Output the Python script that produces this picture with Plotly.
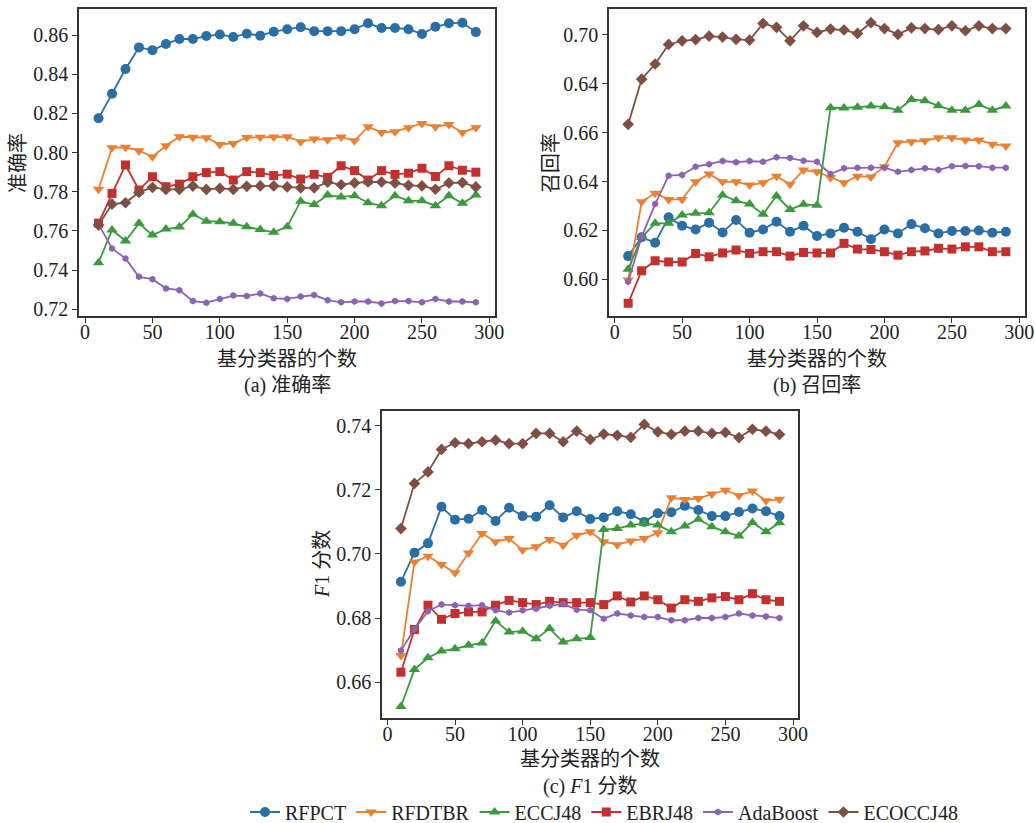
import plotly.graph_objects as go

# number of base classifiers
n_base = list(range(10, 300, 10))

series_names = ["RFPCT", "RFDTBR", "ECCJ48", "EBRJ48", "AdaBoost", "ECOCCJ48"]

# (a) accuracy
acc_rfpct = [0.8175, 0.830, 0.8427, 0.8537, 0.8523, 0.8554, 0.858, 0.858, 0.8595, 0.8603,
             0.859, 0.8607, 0.8597, 0.8617, 0.863, 0.864, 0.862, 0.862, 0.862, 0.863,
             0.866, 0.8636, 0.8636, 0.863, 0.8605, 0.8642, 0.866, 0.8663, 0.8615]
acc_rfdtbr = [0.7813, 0.8025, 0.8027, 0.801, 0.7979, 0.8035, 0.8081, 0.8078, 0.8076, 0.8042,
              0.8047, 0.8077, 0.8078, 0.808, 0.8081, 0.8056, 0.8069, 0.8066, 0.808, 0.806,
              0.8132, 0.8103, 0.8107, 0.8127, 0.8149, 0.8132, 0.8144, 0.8103, 0.8127]
acc_eccj48 = [0.7438, 0.7605, 0.7549, 0.7639, 0.7579, 0.761, 0.762, 0.7685, 0.765, 0.7647,
              0.7639, 0.7621, 0.7607, 0.7593, 0.7622, 0.7752, 0.7735, 0.7783, 0.7774, 0.778,
              0.7744, 0.7729, 0.778, 0.7754, 0.7754, 0.7729, 0.778, 0.7741, 0.7783]
acc_ebrj48 = [0.7640, 0.7792, 0.7937, 0.7809, 0.7877, 0.7826, 0.7839, 0.7877, 0.7898, 0.7903,
              0.786, 0.7903, 0.7898, 0.7883, 0.789, 0.7865, 0.7889, 0.7874, 0.7933, 0.7908,
              0.786, 0.7908, 0.7889, 0.7895, 0.792, 0.7878, 0.7933, 0.791, 0.790]
acc_adaboost = [0.7635, 0.7511, 0.746, 0.7366, 0.7354, 0.7307, 0.7298, 0.7242, 0.7234, 0.7253,
                0.727, 0.7268, 0.7281, 0.7256, 0.7253, 0.7265, 0.7273, 0.7247, 0.7236, 0.724,
                0.724, 0.723, 0.7242, 0.7242, 0.7236, 0.7253, 0.724, 0.724, 0.7236]
acc_ecoc = [0.763, 0.7737, 0.7744, 0.7797, 0.7822, 0.7812, 0.7812, 0.7829, 0.7812, 0.7817,
            0.7812, 0.7828, 0.783, 0.783, 0.7825, 0.782, 0.782, 0.7849, 0.7836, 0.7845,
            0.785, 0.785, 0.7845, 0.7833, 0.783, 0.7813, 0.7845, 0.7847, 0.7825]

# (b) recall
rec_rfpct = [0.6095, 0.6172, 0.615, 0.6254, 0.6219, 0.6204, 0.6232, 0.6192, 0.6243, 0.6191,
             0.6204, 0.6236, 0.6195, 0.6219, 0.6177, 0.6188, 0.6211, 0.6195, 0.6164, 0.6204,
             0.6188, 0.6226, 0.6209, 0.6188, 0.6198, 0.6198, 0.620, 0.6191, 0.6195]
rec_rfdtbr = [0.5997, 0.6317, 0.6352, 0.6327, 0.6327, 0.6399, 0.6431, 0.6399, 0.6399, 0.6386,
              0.6395, 0.6422, 0.6389, 0.6447, 0.644, 0.6416, 0.6395, 0.6422, 0.6419, 0.6461,
              0.6559, 0.6563, 0.6567, 0.6579, 0.6579, 0.657, 0.657, 0.6553, 0.6546]
rec_eccj48 = [0.6041, 0.6172, 0.6229, 0.6229, 0.6263, 0.627, 0.6272, 0.6345, 0.6321, 0.6308,
              0.6266, 0.6341, 0.6286, 0.6307, 0.6303, 0.6702, 0.6701, 0.6704, 0.6709, 0.6706,
              0.6692, 0.6736, 0.6731, 0.671, 0.6692, 0.6692, 0.6715, 0.6692, 0.6709]
rec_ebrj48 = [0.5902, 0.6035, 0.6076, 0.6071, 0.6071, 0.6106, 0.6092, 0.6108, 0.612, 0.6106,
              0.6113, 0.6113, 0.6095, 0.611, 0.6108, 0.6108, 0.6147, 0.6124, 0.6122, 0.6113,
              0.6099, 0.6113, 0.6116, 0.6127, 0.6124, 0.6133, 0.6133, 0.6113, 0.6113]
rec_adaboost = [0.599, 0.6174, 0.6308, 0.6424, 0.6427, 0.6461, 0.6471, 0.6484, 0.6479, 0.6484,
                0.6481, 0.6499, 0.6496, 0.6485, 0.6481, 0.6431, 0.6454, 0.6457, 0.6457, 0.6457,
                0.644, 0.6447, 0.6454, 0.6447, 0.6463, 0.6464, 0.6463, 0.6457, 0.6457]
rec_ecoc = [0.6634, 0.6819, 0.6881, 0.6961, 0.6976, 0.6981, 0.6995, 0.6991, 0.6982, 0.6979,
            0.7047, 0.7031, 0.6976, 0.7037, 0.701, 0.7024, 0.702, 0.7006, 0.705, 0.7026,
            0.7002, 0.7029, 0.7026, 0.7022, 0.7037, 0.7017, 0.7037, 0.7026, 0.7026]

# (c) F1 score
f1_rfpct = [0.6913, 0.7004, 0.7033, 0.7147, 0.7107, 0.711, 0.7137, 0.7103, 0.7144, 0.7118,
            0.7116, 0.7152, 0.7114, 0.7133, 0.7109, 0.7114, 0.7133, 0.7124, 0.710, 0.7127,
            0.713, 0.715, 0.7137, 0.7118, 0.7118, 0.7131, 0.7142, 0.7133, 0.7118]
f1_rfdtbr = [0.6683, 0.6975, 0.6993, 0.6967, 0.6941, 0.7003, 0.7064, 0.7038, 0.7048, 0.7012,
             0.7022, 0.7045, 0.7027, 0.7058, 0.7069, 0.7038, 0.7029, 0.704, 0.7048, 0.7066,
             0.7175, 0.717, 0.7173, 0.7187, 0.7199, 0.7182, 0.7196, 0.7166, 0.7171]
f1_eccj48 = [0.6524, 0.6639, 0.6676, 0.6697, 0.6704, 0.6715, 0.6722, 0.6791, 0.6756, 0.6759,
             0.6735, 0.6767, 0.6725, 0.6735, 0.6739, 0.7076, 0.7079, 0.709, 0.7095, 0.709,
             0.7069, 0.7087, 0.7108, 0.7085, 0.7069, 0.7056, 0.7098, 0.7069, 0.7097]
f1_ebrj48 = [0.6631, 0.6764, 0.684, 0.6796, 0.6814, 0.6819, 0.6819, 0.684, 0.6855, 0.6848,
             0.6842, 0.6852, 0.6848, 0.6848, 0.6848, 0.6842, 0.6869, 0.685, 0.6869, 0.6857,
             0.6831, 0.6857, 0.6852, 0.6863, 0.6867, 0.6857, 0.6876, 0.6857, 0.6852]
f1_adaboost = [0.6699, 0.6765, 0.6821, 0.6842, 0.684, 0.6838, 0.684, 0.6824, 0.6817, 0.6824,
               0.6829, 0.6838, 0.6844, 0.6826, 0.6824, 0.6798, 0.6814, 0.6808, 0.6803, 0.6803,
               0.6793, 0.6793, 0.680, 0.680, 0.6803, 0.6814, 0.6808, 0.6805, 0.680]
f1_ecoc = [0.7079, 0.722, 0.7256, 0.7326, 0.7347, 0.7344, 0.735, 0.7355, 0.7344, 0.7344,
           0.7376, 0.7376, 0.735, 0.7383, 0.7357, 0.7374, 0.737, 0.7364, 0.7404, 0.7381,
           0.7373, 0.7383, 0.7383, 0.7376, 0.7379, 0.7363, 0.7389, 0.7383, 0.7373]

# tick labels
x_ticks = [0, 50, 100, 150, 200, 250, 300]
acc_ticks = [0.72, 0.74, 0.76, 0.78, 0.80, 0.82, 0.84, 0.86]
rec_ticks = [0.60, 0.62, 0.64, 0.66, 0.68, 0.70]
rec_tick_text = ["0.60", "0.62", "0.64", "0.66", "0.64", "0.70"]
f1_ticks = [0.66, 0.68, 0.70, 0.72, 0.74]

colors = ["#2a6ea6", "#ec7f30", "#3a9a3c", "#c4302e", "#8a63b4", "#7f4f46"]
symbols = ["circle", "triangle-down", "triangle-up", "square", "hexagon", "diamond"]
sizes = [10, 10, 10, 9, 7, 9]

SERIF = "Liberation Serif, Times New Roman, Noto Sans CJK SC"

panels = [
    ("x", "y", [acc_rfpct, acc_rfdtbr, acc_eccj48, acc_ebrj48, acc_adaboost, acc_ecoc]),
    ("x2", "y2", [rec_rfpct, rec_rfdtbr, rec_eccj48, rec_ebrj48, rec_adaboost, rec_ecoc]),
    ("x3", "y3", [f1_rfpct, f1_rfdtbr, f1_eccj48, f1_ebrj48, f1_adaboost, f1_ecoc]),
]

fig = go.Figure()
for p, (xa, ya, data) in enumerate(panels):
    for i, name in enumerate(series_names):
        fig.add_trace(go.Scatter(
            x=n_base, y=data[i], xaxis=xa, yaxis=ya, name=name,
            mode="lines+markers", showlegend=(p == 0), legendgroup=name,
            line=dict(color=colors[i], width=1.8),
            marker=dict(symbol=symbols[i], size=sizes[i], color=colors[i]),
        ))

W, H = 1035, 823


def xdom(l, r):
    return [l / W, r / W]


def ydom(t, b):
    return [1 - b / H, 1 - t / H]


axis_common = dict(
    showline=True, mirror=True, linecolor="#333333", linewidth=1.5,
    ticks="outside", ticklen=5, tickwidth=1.2, tickcolor="#333333",
    showgrid=False, zeroline=False,
    tickfont=dict(family=SERIF, size=20, color="#222222"),
)
x_label_shift = -8

fig.update_layout(
    width=W, height=H,
    margin=dict(l=0, r=0, t=0, b=0, autoexpand=False),
    paper_bgcolor="white", plot_bgcolor="white",
    xaxis=dict(domain=xdom(79, 495), range=[-4.5, 304.2], tickvals=x_ticks, anchor="y",
               ticklabelstandoff=x_label_shift, **axis_common),
    yaxis=dict(domain=ydom(9, 316), range=[0.7166, 0.8733], tickvals=acc_ticks,
               tickformat=".2f", anchor="x", **axis_common),
    xaxis2=dict(domain=xdom(609, 1025), range=[-4.2, 304.2], tickvals=x_ticks, anchor="y2",
                ticklabelstandoff=x_label_shift, **axis_common),
    yaxis2=dict(domain=ydom(9, 316), range=[0.585, 0.7106], tickvals=rec_ticks,
                ticktext=rec_tick_text, anchor="x2", **axis_common),
    xaxis3=dict(domain=xdom(382, 798), range=[-4, 303.7], tickvals=x_ticks, anchor="y3",
                ticklabelstandoff=x_label_shift, **axis_common),
    yaxis3=dict(domain=ydom(411, 718), range=[0.6488, 0.7446], tickvals=f1_ticks,
                tickformat=".2f", anchor="x3", **axis_common),
    legend=dict(orientation="h", x=245 / W, xanchor="left", y=1 - 812 / H, yanchor="middle",
                font=dict(family=SERIF, size=20, color="#222222"),
                itemwidth=30, tracegroupgap=0, bgcolor="rgba(0,0,0,0)"),
)

text_font = dict(family=SERIF, size=20, color="#222222")
labels = [
    # (text, x_px, y_px, angle)
    ("基分类器的个数", 287, 359, 0),
    ("(a) 准确率", 287, 385, 0),
    ("准确率", 18, 163, -90),
    ("基分类器的个数", 817, 359, 0),
    ("(b) 召回率", 817, 385, 0),
    ("召回率", 551, 163, -90),
    ("基分类器的个数", 590, 759, 0),
    ("(c) <i>F</i>1 分数", 590, 786, 0),
    ("<i>F</i>1 分数", 322, 564, -90),
]
for txt, xp, yp, ang in labels:
    fig.add_annotation(text=txt, xref="paper", yref="paper", x=xp / W, y=1 - yp / H,
                       xanchor="center", yanchor="middle", showarrow=False,
                       textangle=ang, font=text_font)

fig.write_html("out.html")
